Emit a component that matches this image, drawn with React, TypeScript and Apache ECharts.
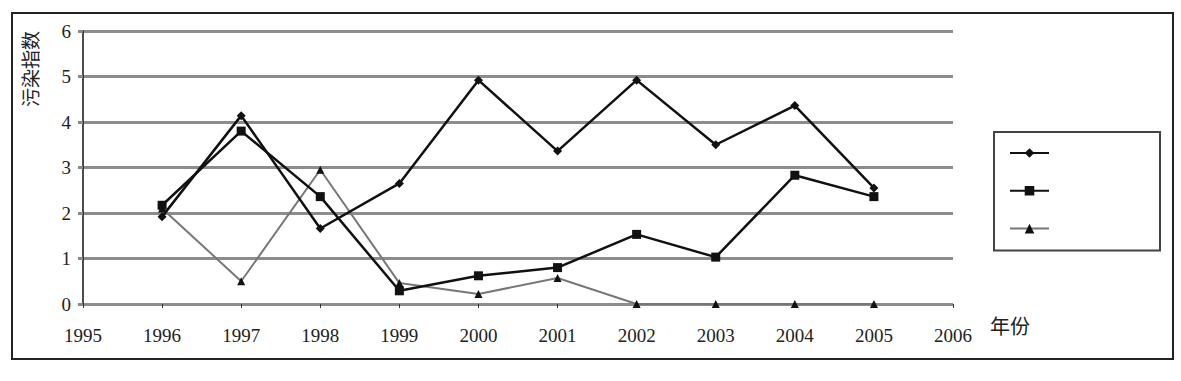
import React, { useEffect, useRef } from "react";
import * as echarts from "echarts";

const years = [1996, 1997, 1998, 1999, 2000, 2001, 2002, 2003, 2004, 2005];
const seriesA = [1.92, 4.14, 1.66, 2.65, 4.92, 3.36, 4.92, 3.5, 4.36, 2.55];
const seriesB = [2.17, 3.8, 2.36, 0.29, 0.62, 0.8, 1.53, 1.03, 2.83, 2.36];
const seriesC = [2.1, 0.5, 2.95, 0.46, 0.22, 0.57, 0, 0, 0, 0];
const xName = "年份";
const yName = "污染指数";

const zip = (vals: number[]) => years.map((y, i) => [y, vals[i]]);

export default function App() {
  const ref = useRef<HTMLDivElement>(null);
  useEffect(() => {
    if (!ref.current) return;
    const chart = echarts.init(ref.current, null, { renderer: "svg" });
    const font = "'Liberation Serif', 'DejaVu Serif', serif";
    const cjk = "'Noto Sans CJK SC', sans-serif";
    chart.setOption({
      animation: false,
      backgroundColor: "#fff",
      grid: { left: 83, right: 228, top: 31, bottom: 77, containLabel: false },
      legend: {
        orient: "vertical",
        left: 994,
        top: 132,
        padding: [15, 110, 17, 15],
        itemGap: 27,
        itemWidth: 39,
        itemHeight: 12,
        borderColor: "#444",
        borderWidth: 2,
        formatter: () => "",
        data: ["\u00a0", "\u00a0\u00a0", "\u00a0\u00a0\u00a0"],
        selectedMode: false,
      },
      xAxis: {
        type: "value",
        min: 1995,
        max: 2006,
        interval: 1,
        axisLine: { show: false },
        axisTick: { show: true, length: 4, lineStyle: { color: "#333", width: 1 } },
        splitLine: { show: false },
        axisLabel: {
          formatter: (v: number) => String(v),
          fontFamily: font,
          fontSize: 19,
          color: "#222",
          margin: 22,
        },
      },
      yAxis: {
        type: "value",
        min: 0,
        max: 6,
        interval: 1,
        axisLine: { show: true, lineStyle: { color: "#111", width: 1.5 } },
        axisTick: { show: true, length: 5, lineStyle: { color: "#888", width: 3 } },
        splitLine: { show: true, lineStyle: { color: "#8c8c8c", width: 3 } },
        axisLabel: { fontFamily: font, fontSize: 19, color: "#222", margin: 12 },
      },
      graphic: [
        {
          type: "rect",
          shape: { x: 12, y: 13, width: 1161, height: 346 },
          style: { fill: "none", stroke: "#222", lineWidth: 2 },
          silent: true,
        },
        {
          type: "text",
          x: 990,
          y: 325,
          style: {
            text: xName,
            fontFamily: cjk,
            fontSize: 20,
            fill: "#222",
            textVerticalAlign: "middle",
          },
        },
        {
          type: "text",
          x: 29,
          y: 69,
          rotation: Math.PI / 2,
          style: {
            text: yName,
            fontFamily: cjk,
            fontSize: 19,
            fill: "#222",
            textAlign: "center",
            textVerticalAlign: "middle",
          },
        },
      ],
      series: [
        {
          name: "\u00a0",
          type: "line",
          data: zip(seriesA),
          symbol: "diamond",
          symbolSize: 9,
          lineStyle: { color: "#111", width: 2.5 },
          itemStyle: { color: "#111" },
          z: 3,
        },
        {
          name: "\u00a0\u00a0",
          type: "line",
          data: zip(seriesB),
          symbol: "rect",
          symbolSize: 9,
          lineStyle: { color: "#111", width: 2.5 },
          itemStyle: { color: "#111" },
          z: 3,
        },
        {
          name: "\u00a0\u00a0\u00a0",
          type: "line",
          data: zip(seriesC),
          symbol: "triangle",
          symbolSize: 8,
          lineStyle: { color: "#777", width: 2 },
          itemStyle: { color: "#111" },
          z: 2,
        },
      ],
    });
    return () => chart.dispose();
  }, []);
  return (
    <div
      ref={ref}
      style={{ position: "fixed", left: 0, top: 0, width: 1181, height: 381 }}
    />
  );
}
